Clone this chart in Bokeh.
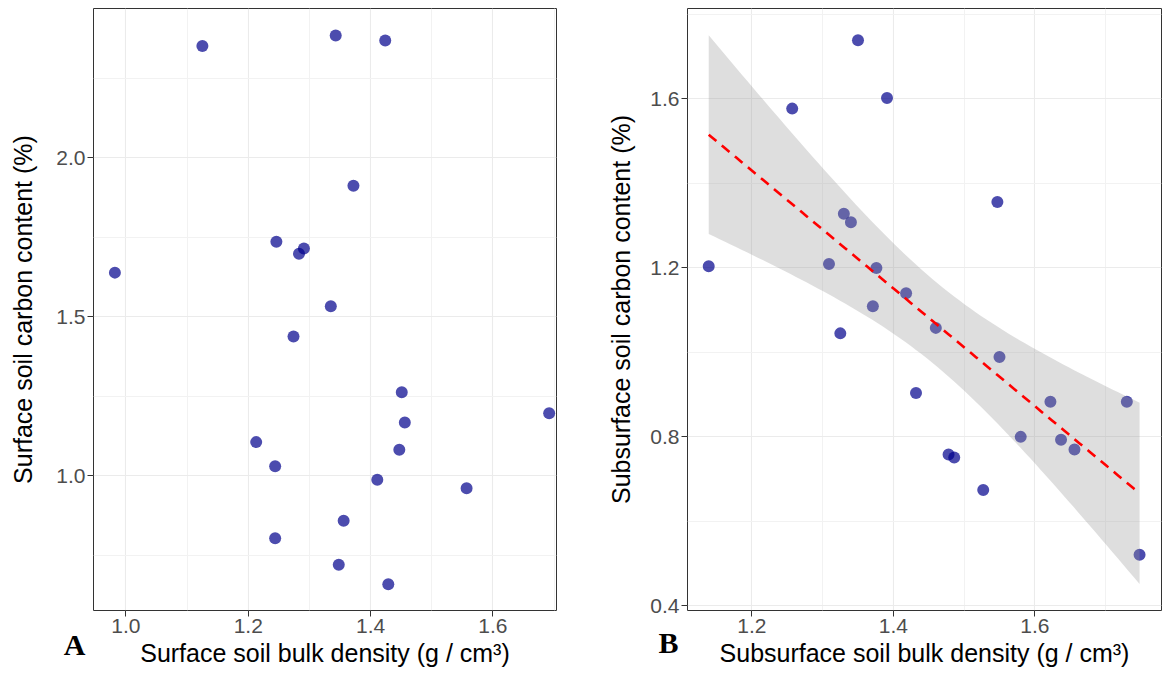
import numpy as np
from bokeh.plotting import figure
from bokeh.layouts import row
from bokeh.models import FixedTicker, Range1d, Label, ColumnDataSource, PrintfTickFormatter
from bokeh.embed import file_html
from bokeh.resources import INLINE

# Panel A: surface soil
surf_bd = [1.125, 1.343, 1.424, 1.372, 1.246, 1.291, 1.283, 0.982, 1.335, 1.274, 1.451,
           1.692, 1.456, 1.213, 1.447, 1.244, 1.411, 1.557, 1.356, 1.244, 1.348, 1.429]
surf_c = [2.351, 2.384, 2.368, 1.911, 1.735, 1.714, 1.697, 1.638, 1.532, 1.437, 1.262,
          1.196, 1.167, 1.105, 1.081, 1.029, 0.987, 0.960, 0.858, 0.803, 0.719, 0.658]

# Panel B: subsurface soil
sub_bd = [1.350, 1.391, 1.257, 1.547, 1.330, 1.340, 1.139, 1.309, 1.376, 1.418, 1.371,
          1.325, 1.460, 1.550, 1.432, 1.622, 1.730, 1.580, 1.637, 1.656, 1.478, 1.486,
          1.527, 1.748]
sub_c = [1.739, 1.602, 1.577, 1.356, 1.328, 1.308, 1.204, 1.209, 1.200, 1.140, 1.109,
         1.045, 1.058, 0.989, 0.904, 0.883, 0.883, 0.800, 0.793, 0.770, 0.758, 0.751,
         0.674, 0.521]

a_xticks = [1.0, 1.2, 1.4, 1.6]
a_xminor = [0.9, 1.1, 1.3, 1.5, 1.7]
a_yticks = [1.0, 1.5, 2.0]
a_yminor = [0.75, 1.25, 1.75, 2.25]
b_xticks = [1.2, 1.4, 1.6]
b_xminor = [1.1, 1.3, 1.5, 1.7]
b_yticks = [0.4, 0.8, 1.2, 1.6]
b_yminor = [0.6, 1.0, 1.4, 1.8]

FONT = "Liberation Sans"
PT_COLOR = "#00008B"


def style(p, xt, xm, yt, ym, xlabel, ylabel, ystandoff):
    p.outline_line_color = "#333333"
    p.outline_line_width = 1
    p.xaxis.ticker = FixedTicker(ticks=xt, minor_ticks=xm)
    p.yaxis.ticker = FixedTicker(ticks=yt, minor_ticks=ym)
    for ax in (p.xaxis, p.yaxis):
        ax.formatter = PrintfTickFormatter(format="%.1f")
        ax.axis_line_color = None
        ax.major_tick_line_color = "#333333"
        ax.major_tick_out = 6
        ax.major_tick_in = 0
        ax.minor_tick_line_color = None
        ax.major_label_text_font = FONT
        ax.major_label_text_font_size = "21px"
        ax.major_label_text_color = "#4d4d4d"
        ax.axis_label_text_font = FONT
        ax.axis_label_text_font_size = "25px"
        ax.axis_label_text_font_style = "normal"
        ax.axis_label_text_color = "#000000"
        ax.major_label_standoff = 2
    p.xaxis.axis_label = xlabel
    p.yaxis.axis_label = ylabel
    p.xaxis.axis_label_standoff = 3
    p.yaxis.axis_label_standoff = ystandoff
    for g in (p.xgrid, p.ygrid):
        g.grid_line_color = "#ebebeb"
        g.grid_line_width = 1.1
        g.minor_grid_line_color = "#f2f2f2"
        g.minor_grid_line_width = 1


def panel_tag(p, text, x, y):
    # placed in a side panel so it is not clipped to the frame; positioned in data space
    p.add_layout(Label(x=x, y=y, text=text,
                       text_font="Liberation Serif", text_font_style="bold",
                       text_font_size="30px", text_align="center",
                       text_baseline="middle", text_color="black"), "right")


# ---------- Panel A ----------
pA = figure(frame_width=463, frame_height=602, width=600, height=679,
            min_border_left=93, min_border_right=44, min_border_top=8, min_border_bottom=69,
            x_range=Range1d(0.947, 1.704), y_range=Range1d(0.5755, 2.4686),
            output_backend="svg", toolbar_location=None)
style(pA, a_xticks, a_xminor, a_yticks, a_yminor,
      "Surface soil bulk density (g / cm³)", "Surface soil carbon content (%)", 16)
pA.scatter(surf_bd, surf_c, size=12, fill_color=PT_COLOR, fill_alpha=0.7, line_color=None)
panel_tag(pA, "A", 0.9159, 0.4686)

# ---------- Panel B ----------
pB = figure(frame_width=474, frame_height=602, width=569, height=679,
            min_border_left=87, min_border_right=8, min_border_top=8, min_border_bottom=69,
            x_range=Range1d(1.109, 1.779), y_range=Range1d(0.389, 1.814),
            output_backend="svg", toolbar_location=None)
style(pB, b_xticks, b_xminor, b_yticks, b_yminor,
      "Subsurface soil bulk density (g / cm³)", "Subsurface soil carbon content (%)", 12)
pB.scatter(sub_bd, sub_c, size=12, fill_color=PT_COLOR, fill_alpha=0.7, line_color=None)

# linear fit with 95% confidence band (derived from the data)
x = np.array(sub_bd)
y = np.array(sub_c)
n = len(x)
slope, intercept = np.polyfit(x, y, 1)
resid = y - (slope * x + intercept)
s = np.sqrt(np.sum(resid ** 2) / (n - 2))
sxx = np.sum((x - x.mean()) ** 2)
t_crit = 2.074  # t(0.975, df=22)
xs = np.linspace(x.min(), x.max(), 80)
ys = slope * xs + intercept
se = s * np.sqrt(1.0 / n + (xs - x.mean()) ** 2 / sxx)
src = ColumnDataSource(dict(x=xs, y=ys, lo=ys - t_crit * se, hi=ys + t_crit * se))
pB.varea(x="x", y1="lo", y2="hi", source=src, fill_color="#999999", fill_alpha=0.32)
pB.line(x="x", y="y", source=src, line_color="#ff0000", line_width=2.6, line_dash="10 7")
panel_tag(pB, "B", 1.0821, 0.3133)

layout = row(pA, pB)
open("out.html", "w").write(file_html(layout, INLINE))
